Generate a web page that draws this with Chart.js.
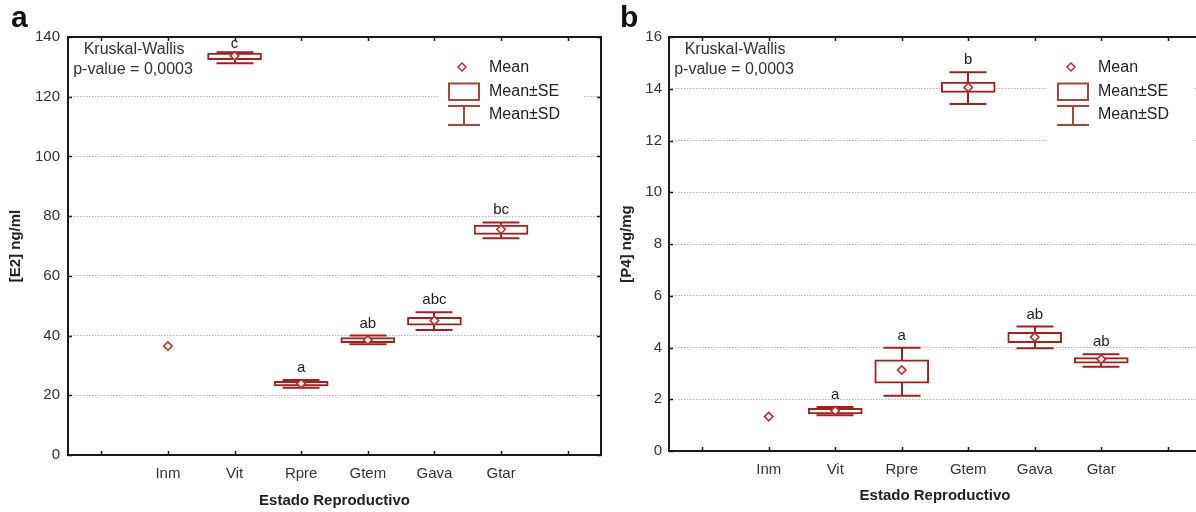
<!DOCTYPE html>
<html><head><meta charset="utf-8">
<script src="https://cdn.jsdelivr.net/npm/chart.js@4.4.1/dist/chart.umd.min.js"></script>
<style>
html,body{margin:0;padding:0;background:#fff;overflow:hidden;width:1196px;height:512px;position:relative}
.wrap{position:absolute;top:0;height:512px;width:602px}
#wa{left:0}
#wb{left:600px}
</style></head><body>
<div class="wrap" id="wa"><canvas id="ca" width="602" height="512"></canvas></div>
<div class="wrap" id="wb"><canvas id="cb" width="602" height="512"></canvas></div>
<script>
// ---- data ----
const categories = ['', 'Inm', 'Vit', 'Rpre', 'Gtem', 'Gava', 'Gtar', ''];

const e2Mean   = [null, 36.5, 133.7, 23.9, 38.5, 45.0, 75.6, null];
const e2SeLow  = [null, null, 132.4, 23.1, 37.6, 43.5, 73.9, null];
const e2SeHigh = [null, null, 134.6, 24.7, 39.3, 46.1, 77.0, null];
const e2SdLow  = [null, null, 131.2, 22.5, 37.1, 41.9, 72.6, null];
const e2SdHigh = [null, null, 134.9, 25.1, 40.0, 47.8, 77.9, null];
const e2Letters = ['', '', 'c', 'a', 'ab', 'abc', 'bc', ''];
const e2Ticks = [0, 20, 40, 60, 80, 100, 120, 140];

const p4Mean   = [null, 1.33, 1.56, 3.13, 14.05, 4.40, 3.55, null];
const p4SeLow  = [null, null, 1.43, 2.62, 13.86, 4.19, 3.39, null];
const p4SeHigh = [null, null, 1.65, 3.52, 14.26, 4.59, 3.61, null];
const p4SdLow  = [null, null, 1.38, 2.14, 13.41, 3.97, 3.26, null];
const p4SdHigh = [null, null, 1.70, 3.99, 14.64, 4.81, 3.74, null];
const p4Letters = ['', '', 'a', 'a', 'b', 'ab', 'ab', ''];
const p4Ticks = [0, 2, 4, 6, 8, 10, 12, 14, 16];

const testName = 'Kruskal-Wallis';
const pValueText = 'p-value = 0,0003';
const legendLabels = ['Mean', 'Mean±SE', 'Mean±SD'];
const xTitle = 'Estado Reproductivo';

// ---- styles ----
const RED = '#a3201f';
const MEANRED = '#b8302c';
const LEGRED = '#a8453a';
const FONT = '"Liberation Sans", Arial, Helvetica, sans-serif';
Chart.defaults.font.family = FONT;
Chart.defaults.font.size = 15;
Chart.defaults.color = '#333';

function makeChart(canvasId, p) {
  const plugin = {
    id: 'decor' + canvasId,
    beforeDatasetsDraw(chart) {
      const {ctx} = chart, xs = chart.scales.x, ys = chart.scales.y;
      ctx.save();
      ctx.strokeStyle = RED; ctx.lineWidth = 2;
      p.sdLow.forEach((lo, i) => {
        const hi = p.sdHigh[i];
        if (lo == null || hi == null) return;
        const x = Math.round(xs.getPixelForValue(i));
        const yl = ys.getPixelForValue(lo), yh = ys.getPixelForValue(hi);
        ctx.beginPath();
        ctx.moveTo(x, yl); ctx.lineTo(x, yh);
        ctx.moveTo(x - 18.5, yl); ctx.lineTo(x + 18.5, yl);
        ctx.moveTo(x - 18.5, yh); ctx.lineTo(x + 18.5, yh);
        ctx.stroke();
      });
      ctx.restore();
    },
    afterDatasetsDraw(chart) {
      const {ctx, chartArea: a} = chart, xs = chart.scales.x, ys = chart.scales.y;
      ctx.save();
      // group letters
      ctx.fillStyle = '#222'; ctx.font = '15px ' + FONT;
      ctx.textAlign = 'center'; ctx.textBaseline = 'alphabetic';
      p.letters.forEach((t, i) => {
        if (!t) return;
        const top = p.sdHigh[i] != null ? p.sdHigh[i] : p.mean[i];
        const y = Math.max(ys.getPixelForValue(top) - 8, a.top + 11);
        ctx.fillText(t, xs.getPixelForValue(i), y);
      });
      // legend
      const L = p.legX;
      ctx.fillStyle = '#fff';
      ctx.fillRect(L - 10, 55, 146, p.legBgH);
      ctx.strokeStyle = MEANRED; ctx.lineWidth = 1.5;
      const dx = L + 14, dy = 67;
      ctx.beginPath();
      ctx.moveTo(dx, dy - 4); ctx.lineTo(dx + 4, dy); ctx.lineTo(dx, dy + 4); ctx.lineTo(dx - 4, dy); ctx.closePath();
      ctx.stroke();
      ctx.strokeStyle = LEGRED; ctx.lineWidth = 2;
      ctx.strokeRect(L + 1, 83.5, 30, 16.5);
      ctx.beginPath();
      ctx.moveTo(L, 106); ctx.lineTo(L + 32, 106);
      ctx.moveTo(L + 16, 106); ctx.lineTo(L + 16, 125);
      ctx.moveTo(L, 125); ctx.lineTo(L + 32, 125);
      ctx.stroke();
      ctx.fillStyle = '#222'; ctx.font = '16px ' + FONT;
      ctx.textAlign = 'left'; ctx.textBaseline = 'middle';
      ctx.fillText(legendLabels[0], L + 41, 68);
      ctx.fillText(legendLabels[1], L + 41, 92);
      ctx.fillText(legendLabels[2], L + 41, 115);
      // test text
      ctx.fillStyle = '#333'; ctx.textAlign = 'center';
      ctx.fillText(testName, a.left + 66, 50);
      ctx.fillText(pValueText, a.left + 65, 70);
      // frame
      ctx.strokeStyle = '#1a1a1a'; ctx.lineWidth = 2;
      ctx.strokeRect(a.left, a.top, a.right - a.left, a.bottom - a.top);
      ctx.lineWidth = 1.5;
      ctx.beginPath();
      categories.forEach((c, i) => {
        const x = Math.round(xs.getPixelForValue(i)) + 0.5;
        ctx.moveTo(x, a.bottom); ctx.lineTo(x, a.bottom - 4);
        ctx.moveTo(x, a.top); ctx.lineTo(x, a.top + 4);
      });
      p.ticks.forEach(v => {
        const y = Math.round(ys.getPixelForValue(v)) + 0.5;
        ctx.moveTo(a.left, y); ctx.lineTo(a.left + 4, y);
        ctx.moveTo(a.right, y); ctx.lineTo(a.right - 4, y);
      });
      ctx.stroke();
      ctx.restore();
    },
    afterDraw(chart) {
      const {ctx, chartArea: a} = chart;
      ctx.save();
      ctx.fillStyle = '#111';
      ctx.font = 'bold 30px ' + FONT;
      ctx.textAlign = 'left'; ctx.textBaseline = 'alphabetic';
      ctx.fillText(p.panel, p.panelX, 27);
      ctx.fillStyle = '#222';
      ctx.font = 'bold 15px ' + FONT;
      ctx.textAlign = 'center'; ctx.textBaseline = 'middle';
      ctx.fillText(xTitle, (a.left + a.right) / 2, p.xTitleY);
      ctx.translate(p.yTitleX, p.yTitleY);
      ctx.rotate(-Math.PI / 2);
      ctx.fillText(p.yTitle, 0, 0);
      ctx.restore();
    }
  };

  return new Chart(document.getElementById(canvasId), {
    type: 'bar',
    data: {
      labels: categories,
      datasets: [
        {
          type: 'line', label: 'Mean', data: p.mean, showLine: false, order: 1,
          pointStyle: 'rectRot', pointRadius: 4.2, pointBorderWidth: 1.6,
          pointBorderColor: MEANRED, pointBackgroundColor: '#fff'
        },
        {
          type: 'bar', label: 'Mean±SE', order: 2,
          data: p.seLow.map((lo, i) => lo == null ? null : [lo, p.seHigh[i]]),
          barThickness: 54, borderWidth: 2, borderSkipped: false,
          borderColor: RED, backgroundColor: '#fff'
        }
      ]
    },
    options: {
      responsive: false, animation: false,
      layout: {autoPadding: false, padding: {left: 0, right: 1, top: 37, bottom: 0}},
      plugins: {legend: {display: false}, tooltip: {enabled: false}},
      scales: {
        x: {
          offset: true,
          grid: {display: false, drawTicks: false},
          border: {display: false},
          ticks: {padding: 10, color: '#333', font: {size: 15}, autoSkip: false, maxRotation: 0},
          afterFit: s => { s.height = p.xAxisH; s.paddingLeft = 0; s.paddingRight = 0; }
        },
        y: {
          min: 0, max: p.ticks[p.ticks.length - 1],
          afterBuildTicks: s => { s.ticks = p.ticks.map(v => ({value: v})); },
          grid: {
            drawTicks: false, lineWidth: 1,
            color: c => (c.tick && (c.tick.value === 0 || c.tick.value === p.ticks[p.ticks.length - 1])) ? 'rgba(0,0,0,0)' : '#b5b5b5'
          },
          border: {display: false, dash: [1.5, 1.5]},
          ticks: {padding: p.yPad, color: '#333', font: {size: 15}},
          afterFit: s => { s.width = p.yAxisW; }
        }
      }
    },
    plugins: [plugin]
  });
}

makeChart('ca', {
  mean: e2Mean, seLow: e2SeLow, seHigh: e2SeHigh, sdLow: e2SdLow, sdHigh: e2SdHigh,
  letters: e2Letters, ticks: e2Ticks, panel: 'a', panelX: 11, yTitle: '[E2] ng/ml',
  yTitleX: 16, yTitleY: 246, xTitleY: 501, xAxisH: 57, yAxisW: 68, yPad: 8,
  legX: 448, legBgH: 80
});
makeChart('cb', {
  mean: p4Mean, seLow: p4SeLow, seHigh: p4SeHigh, sdLow: p4SdLow, sdHigh: p4SdHigh,
  letters: p4Letters, ticks: p4Ticks, panel: 'b', panelX: 20, yTitle: '[P4] ng/mg',
  yTitleX: 27, yTitleY: 244, xTitleY: 496, xAxisH: 61, yAxisW: 69, yPad: 7,
  legX: 457, legBgH: 92
});
</script>
</body></html>
